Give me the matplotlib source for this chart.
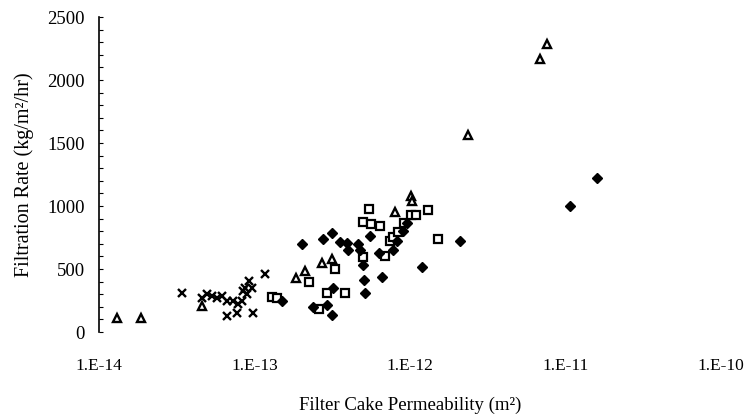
import matplotlib.pyplot as plt
from matplotlib.ticker import MultipleLocator

# Datos: permeabilidad (m2) y tasa de filtracion (kg/m2/hr)
cruces_k = [3.40e-14, 4.58e-14, 4.93e-14, 5.31e-14, 5.71e-14, 6.15e-14, 6.63e-14,
            7.27e-14, 7.83e-14, 8.27e-14, 8.43e-14, 8.69e-14, 8.91e-14, 9.22e-14,
            9.59e-14, 1.168e-13, 6.63e-14, 7.68e-14, 9.82e-14]
cruces_r = [312, 272, 302, 286, 272, 286, 247,
            247, 223, 247, 326, 352, 302, 405,
            352, 464, 127, 154, 154]

triang_k = [1.31e-14, 1.86e-14, 4.58e-14, 1.85e-13, 2.11e-13, 2.72e-13, 3.15e-13,
            8.01e-13, 1.01e-12, 1.025e-12, 2.35e-12, 6.85e-12, 7.57e-12]
triang_r = [111, 111, 207, 432, 485, 551, 578,
            950, 1083, 1043, 1560, 2163, 2285]

cuad_k = [1.29e-13, 1.39e-13, 2.25e-13, 2.61e-13, 2.91e-13, 3.29e-13, 3.85e-13,
          4.96e-13, 4.99e-13, 5.43e-13, 5.61e-13, 6.44e-13, 6.91e-13, 7.44e-13,
          7.78e-13, 8.41e-13, 9.15e-13, 1.01e-12, 1.10e-12, 1.31e-12, 1.52e-12]
cuad_r = [279, 268, 395, 185, 309, 499, 313,
          593, 874, 977, 860, 844, 601, 722,
          756, 797, 868, 927, 931, 969, 738]

diam_k = [1.50e-13, 2.02e-13, 2.39e-13, 2.77e-13, 2.91e-13, 3.14e-13, 3.14e-13,
          3.21e-13, 3.55e-13, 3.95e-13, 4.01e-13, 4.65e-13, 4.77e-13, 4.96e-13,
          5.06e-13, 5.14e-13, 5.53e-13, 6.35e-13, 6.63e-13, 7.75e-13, 8.25e-13,
          9.02e-13, 9.56e-13, 1.195e-12, 2.10e-12, 1.07e-11, 1.60e-11]
diam_r = [247, 698, 200, 742, 211, 784, 138,
          346, 711, 703, 653, 698, 653, 533,
          415, 309, 760, 625, 435, 653, 724,
          804, 868, 517, 724, 1003, 1223]

x_ticks = [1e-14, 1e-13, 1e-12, 1e-11, 1e-10]
x_labels = ["1.E-14", "1.E-13", "1.E-12", "1.E-11", "1.E-10"]

plt.rcParams["font.family"] = ["Liberation Serif", "DejaVu Serif"]

fig = plt.figure(figsize=(7.52, 4.2), dpi=100)
ax = fig.add_axes([0.1316, 0.2095, 0.8271, 0.75])

ax.plot(cruces_k, cruces_r, linestyle="none", marker="x", color="black",
        markersize=5.8, markeredgewidth=1.7)
ax.plot(triang_k, triang_r, linestyle="none", marker="^", markerfacecolor="white",
        markeredgecolor="black", markersize=6.3, markeredgewidth=1.7)
ax.plot(cuad_k, cuad_r, linestyle="none", marker="s", markerfacecolor="white",
        markeredgecolor="black", markersize=6.3, markeredgewidth=1.6)
ax.plot(diam_k, diam_r, linestyle="none", marker="D", color="black",
        markersize=5)

ax.set_xscale("log")
ax.set_xlim(1e-14, 1e-10)
ax.set_ylim(0, 2500)

ax.set_xticks(x_ticks)
ax.set_xticklabels(x_labels)
ax.xaxis.set_minor_locator(plt.NullLocator())
ax.tick_params(axis="x", length=0, pad=19, labelsize=12.5)

ax.yaxis.set_major_locator(MultipleLocator(500))
ax.yaxis.set_minor_locator(MultipleLocator(100))
ax.tick_params(axis="y", which="both", direction="in", length=3, width=0.8,
               pad=10, labelsize=13.5)

for lado in ["top", "right", "bottom"]:
    ax.spines[lado].set_visible(False)
ax.spines["left"].set_linewidth(1.2)

ax.set_xlabel("Filter Cake Permeability (m²)", fontsize=13.5, labelpad=16)
ax.set_ylabel("Filtration Rate (kg/m²/hr)", fontsize=14.5, labelpad=10)

fig.savefig("out.png", dpi=100)
